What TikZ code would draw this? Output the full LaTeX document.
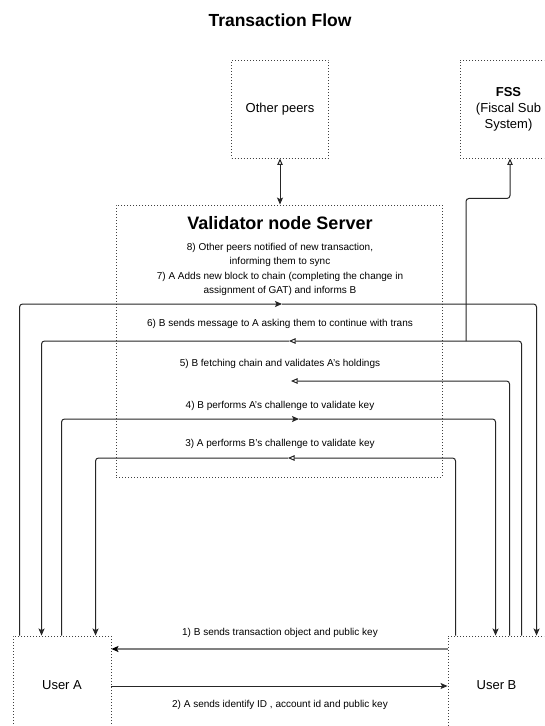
\documentclass[tikz,border=0pt]{standalone}
\usepackage{fontspec}
\setmainfont{Liberation Sans}
\usetikzlibrary{arrows.meta,calc}
\tikzset{
  dotbox/.style={draw=black!75, line width=0.9pt, dash pattern=on 0.9pt off 2.1pt, minimum width=97pt, minimum height=98pt, inner sep=0pt, align=center, font=\fontsize{13}{16}\selectfont},
  conn/.style={draw=black!85, line width=1pt, rounded corners=3pt},
  fillarrow/.tip={Stealth[length=7pt,width=6pt,inset=1.5pt]},
  openarrow/.tip={Triangle[open,length=6.5pt,width=5.5pt,fill=white]},
  lbl/.style={font=\fontsize{10}{14.5}\selectfont, align=center, inner sep=0pt},
}
\begin{document}
\begin{tikzpicture}[x=1pt,y=-1pt]
\useasboundingbox (0,0) rectangle (544,726);
\clip (0,0) rectangle (544,726);
\fill[white] (0,0) rectangle (544,726);

% title
\node[font=\fontsize{17.5}{20}\selectfont\bfseries] (title) at (280,20) {Transaction Flow};

% boxes
\node[dotbox] (peers) at (280,109) {Other peers};
\node[dotbox] (fss) at (508.5,109) {{\bfseries FSS}\\(Fiscal Sub\\System)};
\node[dotbox, minimum width=326pt, minimum height=272pt] (val) at (279,341) {};
\node[dotbox, minimum width=98pt] (userA) at (62,685) {User A};
\node[dotbox] (userB) at (496.5,685) {User B};

% validator texts
\node[font=\fontsize{18}{20}\selectfont\bfseries] (valtitle) at (280,223) {Validator node Server};
\node[lbl] (t8) at (280,255) {8) Other peers notified of new transaction,\\informing them to sync};
\node[lbl] (t7) at (280,284) {7) A Adds new block to chain (completing the change in\\assignment of GAT) and informs B};
\node[lbl] (t6) at (280,324) {6) B sends message to A asking them to continue with trans};
\node[lbl] (t5) at (280,364) {5) B fetching chain and validates A's holdings};
\node[lbl] (t4) at (280,406) {4) B performs A's challenge to validate key};
\node[lbl] (t3) at (280,444) {3) A performs B's challenge to validate key};
\node[lbl] (t1) at (280,633) {1) B sends transaction object and public key};
\node[lbl] (t2) at (280,705) {2) A sends identify ID , account id and public key};

% mid-points of the connectors
\coordinate (m7) at (282,304);
\coordinate (m6) at (289,341);
\coordinate (j6) at (466,341);
\coordinate (m5) at (291,381);
\coordinate (m4) at (299,419);
\coordinate (m3) at (288,458);

% peers <-> validator
\draw[conn, {fillarrow}-{openarrow}] (val.north -| peers.south) -- (peers.south);

% 7) A -> B
\draw[conn, -{fillarrow}] ($(userA.north west)+(7,0)$) |- (m7);
\draw[conn, -{fillarrow}] (m7) -| ($(userB.north west)+(89,0)$);

% 6) B -> A, and FSS
\draw[conn, -{openarrow}] ($(userB.north west)+(74,0)$) |- (m6);
\draw[conn, -{fillarrow}] (m6) -| ($(userA.north west)+(29,0)$);
\draw[conn, -{openarrow}] (j6) |- ($(fss.south)+(1.5,40)$) -- ($(fss.south)+(1.5,0)$);

% 5) B fetching chain
\draw[conn, -{openarrow}] ($(userB.north west)+(62,0)$) |- (m5);

% 4) A -> B
\draw[conn, -{fillarrow}] ($(userA.north west)+(49,0)$) |- (m4);
\draw[conn, -{fillarrow}] (m4) -| ($(userB.north west)+(48,0)$);

% 3) B -> A
\draw[conn, -{openarrow}] ($(userB.north west)+(8,0)$) |- (m3);
\draw[conn, -{fillarrow}] (m3) -| ($(userA.north west)+(83,0)$);

% 1) and 2)
\draw[draw=black!50, line width=1.5pt, -{Stealth[black,length=7pt,width=6pt,inset=1.5pt]}] ([yshift=36pt]userB.west) -- ([yshift=36pt]userA.east);
\draw[conn, -{fillarrow}] ([yshift=-1pt]userA.east) -- ([yshift=-1pt]userB.west);
\end{tikzpicture}
\end{document}
